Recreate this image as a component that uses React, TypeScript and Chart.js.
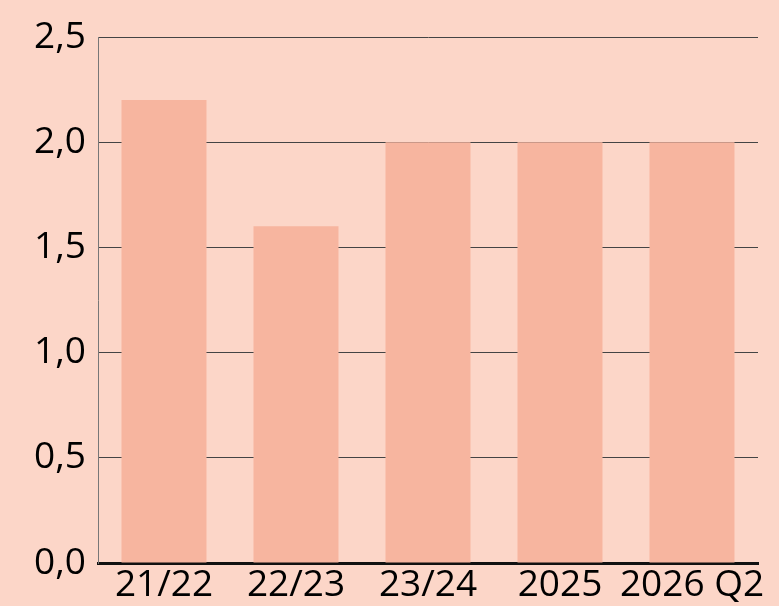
import React, { useEffect, useRef } from "react";
import { Chart, registerables } from "chart.js";

Chart.register(...registerables);

const categories = ["21/22", "22/23", "23/24", "2025", "2026 Q2"];
const values = [2.2, 1.6, 2.0, 2.0, 2.0];
const yTicks = [0, 0.5, 1.0, 1.5, 2.0, 2.5];

const BG = "#fcd6c8";
const BAR = "#f7b59f";
const FONT = "'Open Sans', 'Noto Sans', sans-serif";

export default function App() {
  const ref = useRef<HTMLCanvasElement | null>(null);

  useEffect(() => {
    document.body.style.margin = "0";
    document.body.style.background = BG;
    const ctx = ref.current!;
    const chart = new Chart(ctx, {
      type: "bar",
      data: {
        labels: categories,
        datasets: [
          {
            data: values,
            backgroundColor: BAR,
            borderWidth: 0,
            barPercentage: 0.644,
            categoryPercentage: 1,
          },
        ],
      },
      options: {
        responsive: false,
        animation: false,
        maintainAspectRatio: false,
        layout: { padding: { left: 0, right: 21, top: 37, bottom: 0 } },
        plugins: {
          legend: { display: false },
          tooltip: { enabled: false },
        },
        scales: {
          x: {
            grid: { display: false, drawTicks: false },
            border: { display: true, color: "#111111", width: 3 },
            ticks: {
              color: "#000",
              font: { family: FONT, size: 37 },
              padding: 0,
              maxRotation: 0,
              autoSkip: false,
            },
            afterFit: (s: any) => {
              s.height = 43;
            },
          },
          y: {
            min: 0,
            max: 2.5,
            afterBuildTicks: (s: any) => {
              s.ticks = yTicks.map((v) => ({ value: v }));
            },
            grid: { color: "#444444", lineWidth: 1, drawTicks: false },
            border: { display: true, color: "#777777", width: 1 },
            ticks: {
              color: "#000",
              font: { family: FONT, size: 37 },
              padding: 12,
              callback: (v: any) => Number(v).toFixed(1).replace(".", ","),
            },
            afterFit: (s: any) => {
              s.width = 98;
            },
          },
        },
      },
    });
    return () => chart.destroy();
  }, []);

  return (
    <div style={{ width: 779, height: 606, background: BG }}>
      <canvas ref={ref} width={779} height={606} style={{ display: "block" }} />
    </div>
  );
}
